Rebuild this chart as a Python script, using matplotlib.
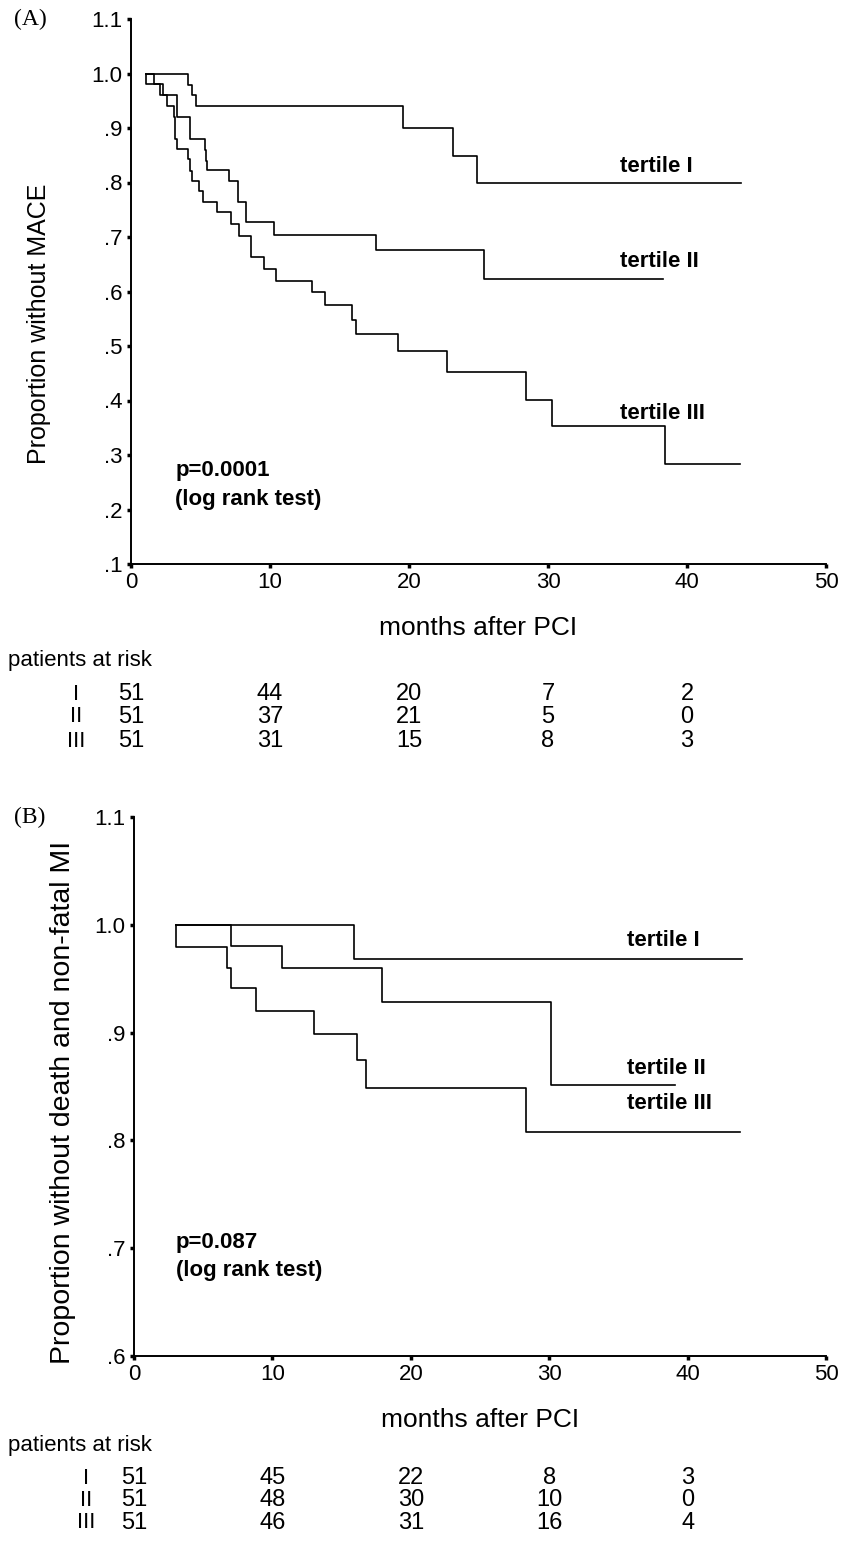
import numpy as np
import matplotlib.pyplot as plt

W, H = 846, 1543

# Panel A: MACE-free survival (event time in months, proportion after event)
a_start = 1.08
a_t1_time = [4.1, 4.4, 4.65, 19.6, 23.2, 24.9]
a_t1_surv = [0.979, 0.96, 0.94, 0.90, 0.849, 0.80]
a_t1_end = 43.9
a_t2_time = [1.08, 2.1, 3.3, 4.25, 5.3, 5.4, 5.5, 7.07, 7.7, 8.25, 10.3, 17.6, 25.4]
a_t2_surv = [0.98, 0.96, 0.92, 0.88, 0.86, 0.84, 0.823, 0.803, 0.764, 0.727, 0.704, 0.676, 0.623]
a_t2_end = 38.3
a_t3_time = [1.65, 2.3, 2.57, 3.1, 3.15, 3.2, 3.3, 4.12, 4.24, 4.4, 4.9, 5.15, 6.2, 7.2, 7.8,
             8.6, 8.65, 9.6, 10.4, 13.05, 13.95, 15.9, 16.2, 19.2, 22.7, 28.4, 30.3, 38.4]
a_t3_surv = [0.98, 0.96, 0.94, 0.92, 0.90, 0.88, 0.862, 0.843, 0.821, 0.803, 0.785, 0.764, 0.745,
             0.724, 0.702, 0.684, 0.663, 0.641, 0.620, 0.599, 0.575, 0.548, 0.522, 0.490, 0.453,
             0.401, 0.353, 0.284]
a_t3_end = 43.8

# Panel B: survival without death and non-fatal MI
b_start = 3.03
b_t1_time = [15.9]
b_t1_surv = [0.968]
b_t1_end = 43.9
b_t2_time = [7.0, 10.7, 17.9, 30.1]
b_t2_surv = [0.98, 0.96, 0.928, 0.851]
b_t2_end = 39.1
b_t3_time = [3.03, 6.7, 7.0, 8.8, 13.0, 16.1, 16.75, 28.35]
b_t3_surv = [0.979, 0.96, 0.941, 0.92, 0.899, 0.875, 0.849, 0.808]
b_t3_end = 43.8

groups = ['I', 'II', 'III']
risk_months = [0, 10, 20, 30, 40]
a_risk = [[51, 44, 20, 7, 2], [51, 37, 21, 5, 0], [51, 31, 15, 8, 3]]
b_risk = [[51, 45, 22, 8, 3], [51, 48, 30, 10, 0], [51, 46, 31, 16, 4]]

a_yticks = [0.1, 0.2, 0.3, 0.4, 0.5, 0.6, 0.7, 0.8, 0.9, 1.0, 1.1]
b_yticks = [0.6, 0.7, 0.8, 0.9, 1.0, 1.1]

SANS = ['Liberation Sans', 'DejaVu Sans']
NARROW = ['Liberation Sans Narrow', 'Liberation Sans', 'DejaVu Sans']
SERIF = ['Liberation Serif', 'DejaVu Serif']


def ylab(v):
    return '%.1f' % v if v >= 1 else ('%.1f' % v)[1:]


def curve(start, times, surv, end):
    x = [start] + list(times) + [end]
    y = [1.0] + list(surv) + [surv[-1]]
    return x, y


def make_panel(px_left, px_top, px_bottom, ymin, ymax, yticks, curves, tert_pos,
               ylabel, ylab_size, ylab_pos, ptext, ptext_pos, risk, risk_px, roman_x, letter):
    px_right = 826
    ax = fig.add_axes([px_left / W, 1 - px_bottom / H,
                       (px_right - px_left) / W, (px_bottom - px_top) / H])
    for c in curves:
        x, y = curve(*c)
        ax.step(x, y, where='post', color='black', lw=1.2)
    ax.set_xlim(0, 50)
    ax.set_ylim(ymin, ymax)
    ax.set_xticks([0, 10, 20, 30, 40, 50])
    ax.set_yticks(yticks)
    ax.set_yticklabels([ylab(v) for v in yticks])
    for s in ['top', 'right']:
        ax.spines[s].set_visible(False)
    for s in ['left', 'bottom']:
        ax.spines[s].set_linewidth(1.4)
    ax.tick_params(direction='out', length=3, width=2.5, labelsize=16, pad=3)
    for lab in ax.get_xticklabels() + ax.get_yticklabels():
        lab.set_family(NARROW)
    ax.set_ylabel(ylabel, fontsize=ylab_size, family=SANS)
    ax.yaxis.set_label_coords((ylab_pos[0] - px_left) / (px_right - px_left), ylab_pos[1])
    ax.set_xlabel('months after PCI', fontsize=19, family=SANS, labelpad=16)

    for name, (tx, ty) in zip(['tertile I', 'tertile II', 'tertile III'], tert_pos):
        ax.text(tx, ty, name, fontsize=16, fontweight='bold', family=SANS,
                ha='left', va='center')
    ax.text(ptext_pos[0], ptext_pos[1], ptext, fontsize=16, fontweight='bold',
            family=SANS, ha='left', va='top', linespacing=1.45)

    def fy(py):
        return 1 - py / H
    fig.text(30 / W, fy(px_top), letter, fontsize=17, family=SERIF, va='center', ha='center')
    fig.text(8 / W, fy(risk_px[0]), 'patients at risk', fontsize=16, family=NARROW, va='center')
    for g, row, py in zip(groups, risk, risk_px[1:]):
        fig.text(roman_x / W, fy(py), g, fontsize=16, family=NARROW, va='center', ha='center')
        for m, n in zip(risk_months, row):
            xp = px_left + m * (px_right - px_left) / 50
            fig.text(xp / W, fy(py), str(n), fontsize=17, family=NARROW, va='center', ha='center')
    return ax


fig = plt.figure(figsize=(W / 100, H / 100), dpi=100)

make_panel(131, 19, 564, 0.1, 1.1, a_yticks,
           [(a_start, a_t1_time, a_t1_surv, a_t1_end),
            (a_start, a_t2_time, a_t2_surv, a_t2_end),
            (a_start, a_t3_time, a_t3_surv, a_t3_end)],
           [(35.2, 0.83), (35.2, 0.655), (35.2, 0.377)],
           'Proportion without MACE', 18, (51, 0.44),
           'p=0.0001\n(log rank test)', (3.2, 0.29),
           a_risk, [660, 694, 717, 741], 76, '(A)')

make_panel(134, 817, 1356, 0.6, 1.1, b_yticks,
           [(b_start, b_t1_time, b_t1_surv, b_t1_end),
            (b_start, b_t2_time, b_t2_surv, b_t2_end),
            (b_start, b_t3_time, b_t3_surv, b_t3_end)],
           [(35.6, 0.985), (35.6, 0.867), (35.6, 0.834)],
           'Proportion without death and non-fatal MI', 20.5, (76, 0.47),
           'p=0.087\n(log rank test)', (3.0, 0.715),
           b_risk, [1445, 1478, 1500, 1523], 86, '(B)')

fig.savefig('out.png', dpi=100)
